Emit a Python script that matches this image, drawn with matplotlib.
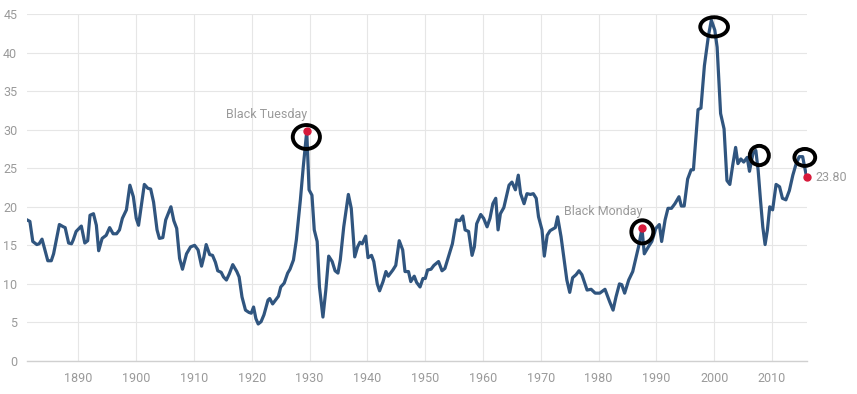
import matplotlib.pyplot as plt
from matplotlib.patches import Ellipse

years = [1881.1, 1881.6, 1882.1, 1882.8, 1883.2, 1883.7, 1884.7, 1885.3, 1885.7, 1886.7,
         1887.4, 1887.7, 1888.3, 1888.8, 1889.1, 1889.6, 1890.5, 1891.1, 1891.6, 1892.0,
         1892.6, 1893.1, 1893.5, 1894.1, 1894.8, 1895.4, 1896.0, 1896.6, 1897.1, 1897.6,
         1898.3, 1898.9, 1899.5, 1900.0, 1900.4, 1901.4, 1902.0, 1902.5, 1903.0, 1903.6,
         1904.0, 1904.6, 1905.1, 1906.0, 1906.5, 1907.0, 1907.5, 1908.0, 1908.7, 1909.4,
         1910.1, 1910.7, 1911.3, 1911.7, 1912.1, 1912.7, 1913.2, 1913.7, 1914.1, 1914.7,
         1915.1, 1915.6, 1916.1, 1916.7, 1917.4, 1917.8, 1918.3, 1918.9, 1919.5, 1919.9,
         1920.3, 1920.7, 1921.1, 1921.6, 1922.1, 1922.8, 1923.1, 1923.6, 1924.2, 1924.6,
         1925.0, 1925.6, 1926.2, 1926.6, 1927.2, 1927.7, 1928.4, 1928.9, 1929.5, 1929.9,
         1930.4, 1930.8, 1931.3, 1931.7, 1932.3, 1932.8, 1933.3, 1933.9, 1934.4, 1934.9,
         1935.3, 1935.9, 1936.7, 1937.2, 1937.8, 1938.3, 1938.7, 1939.1, 1939.7, 1940.1,
         1940.7, 1941.1, 1941.7, 1942.1, 1942.7, 1943.2, 1943.6, 1944.4, 1944.9, 1945.5,
         1946.1, 1946.5, 1947.1, 1947.5, 1948.1, 1948.5, 1949.1, 1949.6, 1950.0, 1950.4,
         1951.0, 1951.5, 1952.3, 1952.9, 1953.4, 1954.7, 1955.4, 1956.0, 1956.5, 1956.9,
         1957.5, 1958.1, 1958.5, 1958.9, 1959.6, 1960.1, 1960.7, 1961.2, 1961.7, 1962.2,
         1962.6, 1963.0, 1963.6, 1964.5, 1965.0, 1965.6, 1966.1, 1966.5, 1967.1, 1967.6,
         1968.2, 1968.7, 1969.2, 1969.6, 1970.2, 1970.6, 1971.1, 1971.6, 1972.5, 1972.9,
         1973.5, 1974.0, 1974.5, 1975.0, 1975.5, 1976.1, 1976.6, 1977.1, 1978.0, 1978.7,
         1979.4, 1980.2, 1981.1, 1981.9, 1982.5, 1983.0, 1983.6, 1984.0, 1984.5, 1985.2,
         1985.9, 1986.5, 1986.9, 1987.5, 1987.9, 1988.6, 1989.2, 1989.9, 1990.5, 1990.9,
         1991.5, 1992.0, 1992.6, 1993.2, 1993.9, 1994.3, 1994.8, 1995.4, 1996.0, 1996.4,
         1997.2, 1997.7, 1998.3, 1999.0, 1999.5, 2000.1, 2000.5, 2001.1, 2001.7, 2002.2,
         2002.7, 2003.2, 2003.7, 2004.1, 2004.6, 2005.1, 2005.7, 2006.1, 2006.7, 2007.2,
         2007.6, 2008.0, 2008.4, 2008.8, 2009.2, 2009.6, 2010.1, 2010.7, 2011.3, 2011.8,
         2012.4, 2013.0, 2013.6, 2014.1, 2014.7, 2015.3, 2015.6, 2016.0]

cape = [18.3, 18.1, 15.5, 15.1, 15.2, 15.8, 13.0, 13.0, 13.9, 17.7,
        17.4, 17.3, 15.3, 15.2, 15.7, 16.8, 17.5, 15.3, 15.6, 18.9,
        19.1, 17.6, 14.3, 15.9, 16.3, 17.3, 16.5, 16.5, 17.0, 18.5,
        19.6, 22.8, 21.3, 18.5, 17.6, 22.9, 22.4, 22.3, 20.6, 17.0,
        15.9, 16.0, 18.3, 20.0, 18.2, 17.2, 13.3, 11.9, 13.9, 14.8,
        15.0, 14.4, 12.3, 13.5, 15.1, 13.8, 13.7, 12.8, 11.7, 11.5,
        10.9, 10.5, 11.3, 12.5, 11.6, 10.9, 8.3, 6.6, 6.3, 6.2,
        7.0, 5.5, 4.8, 5.1, 6.0, 7.9, 8.1, 7.4, 8.0, 8.4,
        9.6, 10.1, 11.4, 11.9, 13.1, 15.7, 20.9, 25.2, 29.8, 22.2,
        21.5, 17.0, 15.5, 9.6, 5.7, 9.2, 13.6, 12.9, 11.7, 11.4,
        13.1, 17.4, 21.6, 19.8, 13.5, 14.8, 15.4, 15.2, 16.2, 13.4,
        13.7, 12.9, 10.0, 9.1, 10.3, 11.6, 11.0, 11.8, 12.4, 15.6,
        14.4, 11.6, 11.6, 10.3, 11.0, 10.2, 9.6, 10.7, 10.7, 11.8,
        11.9, 12.4, 12.9, 11.7, 12.0, 15.2, 18.3, 18.2, 18.8, 17.0,
        16.8, 13.7, 14.8, 17.8, 19.0, 18.5, 17.4, 18.5, 20.4, 21.1,
        17.0, 19.1, 19.9, 22.8, 23.2, 22.2, 24.1, 21.7, 20.4, 21.7,
        21.6, 21.7, 21.1, 18.7, 17.0, 13.6, 16.3, 16.9, 17.3, 18.7,
        16.1, 13.3, 10.5, 8.9, 10.8, 11.2, 11.7, 11.2, 9.2, 9.3,
        8.8, 8.8, 9.3, 7.7, 6.6, 8.3, 10.0, 9.9, 8.8, 10.5,
        11.6, 13.5, 14.8, 17.2, 13.9, 14.8, 15.5, 17.2, 17.7, 15.5,
        18.3, 19.8, 19.8, 20.4, 21.3, 20.1, 20.1, 23.6, 24.8, 24.8,
        32.6, 32.8, 38.3, 42.2, 44.2, 42.9, 40.7, 32.1, 30.1, 23.4,
        22.9, 25.4, 27.7, 25.6, 26.2, 25.8, 26.4, 24.6, 26.9, 27.3,
        24.7, 20.9, 17.4, 15.1, 17.0, 20.0, 19.6, 22.9, 22.6, 21.1,
        20.9, 22.1, 24.1, 25.4, 26.5, 26.5, 25.3, 23.8]

# highlighted events (red dots with labels)
event_years = [1929.5, 1987.5]
event_values = [29.8, 17.2]
event_labels = ['Black Tuesday', 'Black Monday']

last_year = 2016.0
last_value = 23.80

# hand drawn circles: centre year, centre value, width (years), height (value units)
circle_x = [1929.43, 1987.56, 1999.98, 2007.8, 2015.67]
circle_y = [29.05, 16.75, 43.33, 26.65, 26.4]
circle_w = [4.7, 3.8, 4.8, 3.3, 3.6]
circle_h = [3.1, 3.0, 2.5, 2.5, 2.2]

yticks = [0, 5, 10, 15, 20, 25, 30, 35, 40, 45]
xticks = list(range(1890, 2011, 10))

gray = '#9a9a9a'
plt.rcParams['font.family'] = ['Roboto', 'DejaVu Sans']

fig = plt.figure(figsize=(8.57, 3.94), dpi=100)
ax = fig.add_axes([27 / 857, 33 / 394, 780 / 857, 347 / 394])

ax.plot(years, cape, color='#30557f', linewidth=2.3, solid_joinstyle='round', zorder=3)

for x, y, lab in zip(event_years, event_values, event_labels):
    ax.plot(x, y, 'o', color='#d7193a', markersize=5, zorder=4)
    ax.annotate(lab, (x, y), xytext=(0, 12), textcoords='offset points',
                ha='right', va='center', color=gray, fontsize=9)

ax.plot(last_year, last_value, 'o', color='#d7193a', markersize=5, zorder=4, clip_on=False)
ax.annotate('%.2f' % last_value, (last_year, last_value), xytext=(6, 0),
            textcoords='offset points', ha='left', va='center', color=gray,
            fontsize=9, annotation_clip=False)

for x, y, w, h in zip(circle_x, circle_y, circle_w, circle_h):
    ax.add_patch(Ellipse((x, y), w, h, fill=False, edgecolor='black',
                         linewidth=2.8, zorder=5, clip_on=False))

ax.set_xlim(1881.1, 2016.05)
ax.set_ylim(0, 45)
ax.set_xticks(xticks)
ax.set_yticks(yticks)
ax.grid(True, color='#e6e6e6', linewidth=0.8)
ax.set_axisbelow(True)
for side in ['top', 'right', 'left']:
    ax.spines[side].set_visible(False)
ax.spines['bottom'].set_color('#d0d0d0')
ax.spines['bottom'].set_linewidth(1.0)
ax.tick_params(axis='x', length=0, pad=8, labelsize=9, labelcolor=gray)
ax.tick_params(axis='y', length=0, pad=7, labelsize=9, labelcolor=gray)

fig.savefig('out.png', dpi=100)
